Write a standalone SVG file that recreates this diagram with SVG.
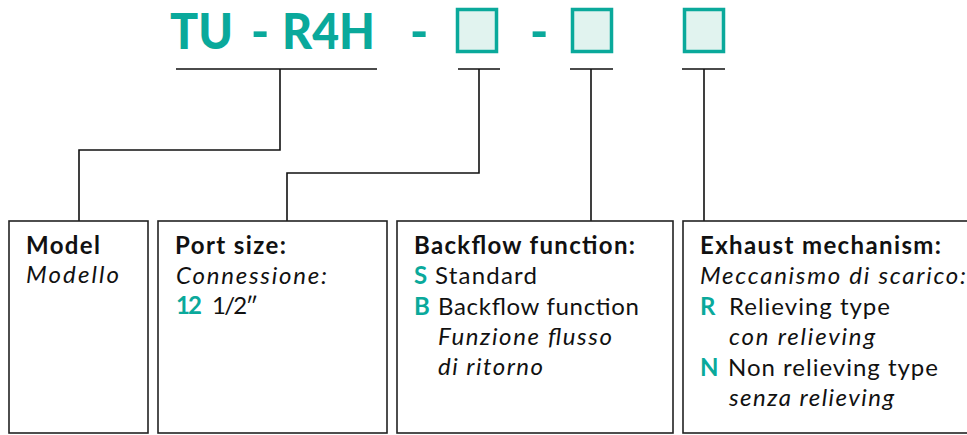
<svg xmlns="http://www.w3.org/2000/svg" width="967" height="435" viewBox="0 0 967 435">
<style>
.t{font-family:Lato,"Liberation Sans",sans-serif;font-size:24px;fill:#111}
.b{font-weight:bold}
.i{font-style:italic}
.g{fill:#0aa99b;font-weight:bold}
.title{font-family:Lato,"Liberation Sans",sans-serif;font-size:49px;font-weight:900;fill:#0aa99b}
.box{fill:#fff;stroke:#222;stroke-width:1.6}
.sq{fill:#e1f3ef;stroke:#0aa99b;stroke-width:3.5}
.ln{fill:none;stroke:#111;stroke-width:1.6}
</style>
<rect width="967" height="435" fill="#fff"/>
<g id="code">
<text class="title" x="170" y="49" textLength="63" lengthAdjust="spacingAndGlyphs">TU</text>
<text class="title" x="251" y="49">-</text>
<text class="title" x="282" y="49" textLength="93" lengthAdjust="spacingAndGlyphs">R4H</text>
<text class="title" x="410" y="49">-</text>
<rect class="sq" x="457.5" y="9.5" width="39" height="42"/>
<text class="title" x="530" y="49">-</text>
<rect class="sq" x="572.5" y="9.5" width="39" height="42"/>
<rect class="sq" x="684.5" y="9.5" width="39" height="42"/>
</g>
<g id="connectors">
<path class="ln" d="M176 69H377M280 69V150H79V221"/>
<path class="ln" d="M458 69H500M479 69V173H287V221"/>
<path class="ln" d="M570 69H613M591 69V221"/>
<path class="ln" d="M682 69H725M704 69V221"/>
</g>
<g id="model">
<rect class="box" x="9" y="221" width="139" height="212"/>
<text class="t b" x="26" y="254" textLength="74">Model</text>
<text class="t i" x="26" y="283" textLength="93">Modello</text>
</g>
<g id="port">
<rect class="box" x="158" y="221" width="229" height="212"/>
<text class="t b" x="175" y="254" textLength="111">Port size:</text>
<text class="t i" x="176" y="284" textLength="151">Connessione:</text>
<text class="t g" x="176" y="314" textLength="26">12</text>
<text class="t" x="212" y="314" textLength="46">1/2″</text>
</g>
<g id="backflow">
<rect class="box" x="397" y="221" width="276" height="212"/>
<text class="t b" x="414" y="254" textLength="221">Backflow function:</text>
<text class="t g" x="414" y="284">S</text>
<text class="t" x="435" y="284" textLength="102">Standard</text>
<text class="t g" x="414" y="315">B</text>
<text class="t" x="438" y="315" textLength="201">Backflow function</text>
<text class="t i" x="438" y="345" textLength="174">Funzione flusso</text>
<text class="t i" x="438" y="375" textLength="105">di ritorno</text>
</g>
<g id="exhaust">
<rect class="box" x="683" y="221" width="300" height="212"/>
<text class="t b" x="700" y="254" textLength="241">Exhaust mechanism:</text>
<text class="t i" x="700" y="284" textLength="266">Meccanismo di scarico:</text>
<text class="t g" x="700" y="315">R</text>
<text class="t" x="729" y="315" textLength="161">Relieving type</text>
<text class="t i" x="729" y="345" textLength="146">con relieving</text>
<text class="t g" x="700" y="376">N</text>
<text class="t" x="728" y="376" textLength="210">Non relieving type</text>
<text class="t i" x="729" y="406" textLength="165">senza relieving</text>
</g>
</svg>
